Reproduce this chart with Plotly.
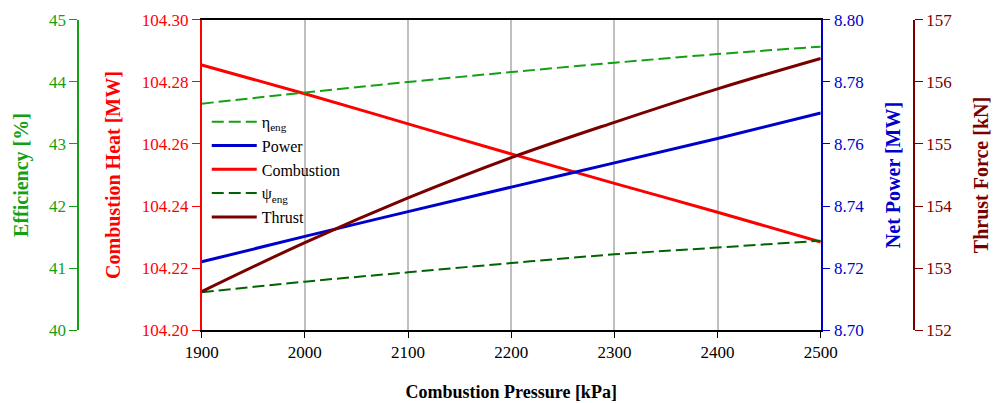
import plotly.graph_objects as go

pressure = [1900, 2000, 2100, 2200, 2300, 2400, 2500]
eta_eng = [43.65, 43.83, 44.00, 44.16, 44.31, 44.45, 44.57]
psi_eng = [40.61, 40.78, 40.93, 41.08, 41.22, 41.33, 41.44]
combustion = [104.2855, 104.2762, 104.2665, 104.2568, 104.2473, 104.2380, 104.2284]
power = [8.7220, 8.7302, 8.7382, 8.7461, 8.7539, 8.7618, 8.7700]
thrust = [152.62, 153.41, 154.13, 154.78, 155.35, 155.89, 156.38]

FONT = "'Liberation Serif', 'Times New Roman', Times, serif"
C_LG = "#14a014"
C_DG = "#006400"
C_RED = "#ff0000"
C_BLUE = "#0000cc"
C_MAR = "#7a0000"

fig = go.Figure()
fig.add_trace(go.Scatter(x=pressure, y=eta_eng, name="η<sub>eng</sub>", yaxis="y2",
                         mode="lines", line=dict(color=C_LG, width=2, dash="12px,5px", shape="spline")))
fig.add_trace(go.Scatter(x=pressure, y=power, name="Power", yaxis="y3",
                         mode="lines", line=dict(color=C_BLUE, width=3, shape="spline")))
fig.add_trace(go.Scatter(x=pressure, y=combustion, name="Combustion", yaxis="y",
                         mode="lines", line=dict(color=C_RED, width=3, shape="spline")))
fig.add_trace(go.Scatter(x=pressure, y=psi_eng, name="ψ<sub>eng</sub>", yaxis="y2",
                         mode="lines", line=dict(color=C_DG, width=2, dash="12px,5px", shape="spline")))
fig.add_trace(go.Scatter(x=pressure, y=thrust, name="Thrust", yaxis="y4",
                         mode="lines", line=dict(color=C_MAR, width=3, shape="spline")))

tickf = lambda c: dict(family=FONT, size=17, color=c)
titf = lambda c, s=20: dict(family=FONT, size=s, color=c)

fig.update_layout(
    width=994, height=403,
    margin=dict(l=0, r=0, t=0, b=0, autoexpand=False),
    paper_bgcolor="white", plot_bgcolor="white",
    font=dict(family=FONT, size=17, color="black"),
    showlegend=True,
    legend=dict(x=0.208, y=0.740, xanchor="left", yanchor="top",
                bgcolor="rgba(0,0,0,0)", font=dict(family=FONT, size=16, color="black"),
                tracegroupgap=0, itemwidth=45),
    xaxis=dict(domain=[0.2029, 0.8257], range=[1900, 2500], dtick=100, automargin=False,
               showgrid=True, gridcolor="#c0c0c0", gridwidth=1.5,
               showline=True, linecolor="black", linewidth=1.5, mirror=True,
               ticks="outside", ticklen=6, tickcolor="black", tickfont=tickf("black"),
               zeroline=False,
               title=dict(text="<b>Combustion Pressure [kPa]</b>", font=titf("black", 18), standoff=24)),
    yaxis=dict(domain=[0.1811, 0.9504], range=[104.20, 104.30], dtick=0.02, tickformat=".2f",
               automargin=False,
               showgrid=False, zeroline=False, showline=True, linecolor=C_RED, linewidth=1.5,
               ticks="outside", ticklen=8, tickcolor=C_RED, tickfont=tickf(C_RED),
               title=dict(text="<b>Combustion Heat [MW]</b>", font=titf(C_RED), standoff=16)),
    yaxis2=dict(overlaying="y", anchor="free", position=0.0785, side="left", automargin=False,
                range=[40, 45], dtick=1, showgrid=False, zeroline=False,
                showline=True, linecolor=C_LG, linewidth=1.5,
                ticks="outside", ticklen=8, tickcolor=C_LG, tickfont=tickf(C_LG),
                title=dict(text="<b>Efficiency [%]</b>", font=titf(C_LG), standoff=14)),
    yaxis3=dict(overlaying="y", anchor="x", side="right", automargin=False,
                range=[8.70, 8.80], dtick=0.02, tickformat=".2f", showgrid=False, zeroline=False,
                showline=True, linecolor=C_BLUE, linewidth=1.5,
                ticks="outside", ticklen=8, tickcolor=C_BLUE, tickfont=tickf(C_BLUE),
                title=dict(text="<b>Net Power [MW]</b>", font=titf(C_BLUE), standoff=23)),
    yaxis4=dict(overlaying="y", anchor="free", position=0.9195, side="right", automargin=False,
                range=[152, 157], dtick=1, showgrid=False, zeroline=False,
                showline=True, linecolor=C_MAR, linewidth=1.5,
                ticks="outside", ticklen=8, tickcolor=C_MAR, tickfont=tickf(C_MAR),
                title=dict(text="<b>Thrust Force [kN]</b>", font=titf(C_MAR), standoff=22)),
)

fig.write_html("out.html")
